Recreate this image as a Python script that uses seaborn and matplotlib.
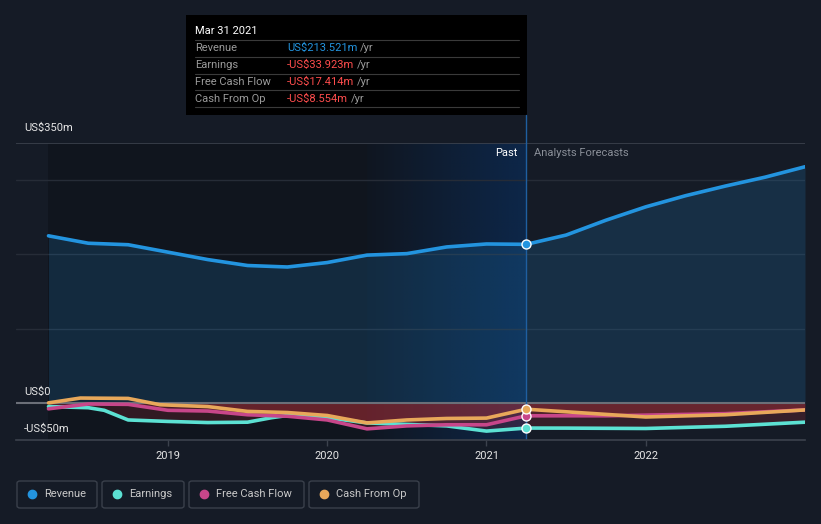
import numpy as np
import pandas as pd
import matplotlib
matplotlib.use('Agg')
import matplotlib.pyplot as plt
from matplotlib.patches import FancyBboxPatch, Rectangle
from matplotlib.lines import Line2D
import seaborn as sns

sns.set_theme(style='dark')
plt.rcParams['font.family'] = ['Roboto', 'DejaVu Sans']

# data (US$m)
past_x = [2018.25, 2018.5, 2018.75, 2019.0, 2019.25, 2019.5, 2019.75, 2020.0, 2020.25, 2020.5, 2020.75, 2021.0, 2021.25]
fc_x = [2021.25, 2021.5, 2021.75, 2022.0, 2022.25, 2022.5, 2022.75, 2023.0]

revenue_past = [225, 215, 213, 203, 193, 185, 183, 189, 199, 201, 210, 214, 213.521]
revenue_fc = [213.521, 226, 246, 264, 279, 292, 304, 318]

earn_x = [2018.25, 2018.5, 2018.6, 2018.75, 2019.0, 2019.25, 2019.5, 2019.65, 2019.75, 2020.0, 2020.25, 2020.5, 2020.75, 2021.0, 2021.25]
earnings_past = [-5, -6.5, -10, -23, -25, -26.5, -26, -20, -17, -20, -27, -29, -31, -38, -33.923]
earn_fc_x = [2021.25, 2021.5, 2022.0, 2022.5, 2023.0]
earnings_fc = [-33.923, -34, -34.5, -31.5, -26]

fcf_past = [-8, -1.5, -2, -10, -11, -16, -18, -23, -35, -31, -29.5, -29.5, -17.414]
fcf_fc = [-17.414, -17.4, -17.4, -16.5, -15.5, -14.5, -12, -9.5]

cfo_x = [2018.25, 2018.45, 2018.75, 2018.95, 2019.25, 2019.5, 2019.75, 2020.0, 2020.25, 2020.5, 2020.75, 2021.0, 2021.25]
cfo_past = [0, 6.5, 6, -2.5, -5, -11.5, -13, -17, -27, -23, -21, -20.5, -8.554]
cfo_fc_x = [2021.25, 2021.5, 2022.0, 2022.5, 2023.0]
cfo_fc = [-8.554, -12, -19, -16, -9.5]

years = [2019, 2020, 2021, 2022]

C_REV = '#2394df'
C_EARN = '#5ce1d3'
C_FCF = '#c7468a'
C_CFO = '#e8a85a'
BG = '#151b26'

W, H = 821, 524
def fx(px):
    return px / W
def fy(py):
    return 1 - py / H

fig = plt.figure(figsize=(8.21, 5.24), dpi=100, facecolor=BG)
ax = fig.add_axes([fx(16), fy(440), (805 - 16) / W, (440 - 143) / H])
ax.set_facecolor(BG)
ax.set_xlim(2018.046, 2023.0)
ax.set_ylim(-50, 350)

# past shading and highlighted band
ax.axvspan(2018.25, 2021.25, color='#0b0f16', alpha=0.45, lw=0, zorder=0)
grad = np.zeros((2, 256, 4))
grad[..., 0] = 12 / 255
grad[..., 1] = 45 / 255
grad[..., 2] = 88 / 255
grad[..., 3] = np.linspace(0.05, 0.75, 256)
ax.imshow(grad, extent=(2020.25, 2021.25, -50, 350), aspect='auto', zorder=0.5, interpolation='bilinear')

# grid
for v in [100, 200, 300]:
    ax.axhline(v, color='#262c37', lw=1, zorder=1)
ax.axhline(350, color='#3c424d', lw=1.2, zorder=1)
ax.axhline(0, color='#6b6f78', lw=1.5, zorder=2)

rev_df = pd.DataFrame({'x': past_x + fc_x[1:], 'v': revenue_past + revenue_fc[1:]})
ax.fill_between(rev_df['x'], rev_df['v'], 0, color=C_REV, alpha=0.17, lw=0, zorder=1.5)

for xs, vs in [(earn_x + earn_fc_x[1:], earnings_past + earnings_fc[1:]),
               (past_x + fc_x[1:], fcf_past + fcf_fc[1:]),
               (cfo_x + cfo_fc_x[1:], cfo_past + cfo_fc[1:])]:
    ax.fill_between(xs, vs, 0, where=np.array(vs) <= 0.5, color='#d9363e', alpha=0.17, lw=0, zorder=1.5)

series = [
    (past_x, revenue_past, fc_x, revenue_fc, C_REV),
    (earn_x, earnings_past, earn_fc_x, earnings_fc, C_EARN),
    (past_x, fcf_past, fc_x, fcf_fc, C_FCF),
    (cfo_x, cfo_past, cfo_fc_x, cfo_fc, C_CFO),
]
for px_, pv, fx_, fv, c in series:
    df = pd.DataFrame({'x': px_ + fx_[1:], 'v': pv + fv[1:]})
    sns.lineplot(data=df, x='x', y='v', ax=ax, color=c, lw=2.6, zorder=3)
    ax.scatter([px_[-1]], [pv[-1]], s=42, color=c, edgecolor='white', linewidth=1, zorder=5)

ax.axvline(2021.25, ymin=0, ymax=1, color='#1f5fa0', lw=1, zorder=2.5)
fig.add_artist(Line2D([fx(526), fx(526)], [fy(115), fy(143)], color='#1f5fa0', lw=1))

ax.set_xlabel(None)
ax.set_ylabel(None)
ax.set_yticks([])
ax.set_xticks(years)
ax.set_xticklabels([str(y) for y in years], color='#e6e6e6', fontsize=8)
ax.tick_params(axis='x', length=4, width=1, color='#3c424d', pad=4, bottom=True)
for s in ['top', 'right', 'left']:
    ax.spines[s].set_visible(False)
ax.spines['bottom'].set_color('#3c424d')
ax.spines['bottom'].set_linewidth(1.2)
ax.grid(False)

# axis value labels
fig.text(fx(24), fy(128), 'US$350m', color='#e6e6e6', fontsize=8, va='center')
fig.text(fx(24), fy(392), 'US$0', color='#e6e6e6', fontsize=8, va='center')
fig.text(fx(24), fy(429), '-US$50m', color='#e6e6e6', fontsize=8, va='center')
fig.text(fx(517), fy(153), 'Past', color='#ffffff', fontsize=8, va='center', ha='right')
fig.text(fx(534), fy(153), 'Analysts Forecasts', color='#8a8f98', fontsize=8, va='center')

# tooltip
fig.add_artist(Rectangle((fx(186), fy(115)), (527 - 186) / W, 100 / H, color='#000000', lw=0))
fig.text(fx(195), fy(31), 'Mar 31 2021', color='#ffffff', fontsize=8, va='center')
for yy in [40, 57, 74, 90, 107]:
    fig.add_artist(Line2D([fx(195), fx(519)], [fy(yy), fy(yy)], color='#3a3a3a', lw=0.8))
rows = [('Revenue', 'US$213.521m', C_REV),
        ('Earnings', '-US$33.923m', '#ff4d4d'),
        ('Free Cash Flow', '-US$17.414m', '#ff4d4d'),
        ('Cash From Op', '-US$8.554m', '#ff4d4d')]
renderer = fig.canvas.get_renderer()
for i, (lab, val, c) in enumerate(rows):
    yy = 48 + i * 17
    fig.text(fx(195), fy(yy), lab, color='#9a9a9a', fontsize=8, va='center')
    t = fig.text(fx(287), fy(yy), val, color=c, fontsize=8, va='center')
    bb = t.get_window_extent(renderer)
    fig.text(bb.x1 / W + 3 / W, fy(yy), '/yr', color='#9a9a9a', fontsize=8, va='center')

# legend boxes
legend = [('Revenue', C_REV, 17, 97), ('Earnings', C_EARN, 102, 184),
          ('Free Cash Flow', C_FCF, 189, 304), ('Cash From Op', C_CFO, 309, 419)]
for lab, c, x0, x1 in legend:
    fig.add_artist(FancyBboxPatch((fx(x0), fy(508)), (x1 - x0) / W, 27 / H,
                                  boxstyle='round,pad=0,rounding_size=0.004',
                                  fc='none', ec='#3a404b', lw=1))
    fig.add_artist(Line2D([fx(x0 + 15)], [fy(494)], marker='o', ms=6, color=c, lw=0))
    fig.text(fx(x0 + 27), fy(494), lab, color='#c8c8c8', fontsize=8, va='center')

fig.savefig('out.png', dpi=100, facecolor=BG)
